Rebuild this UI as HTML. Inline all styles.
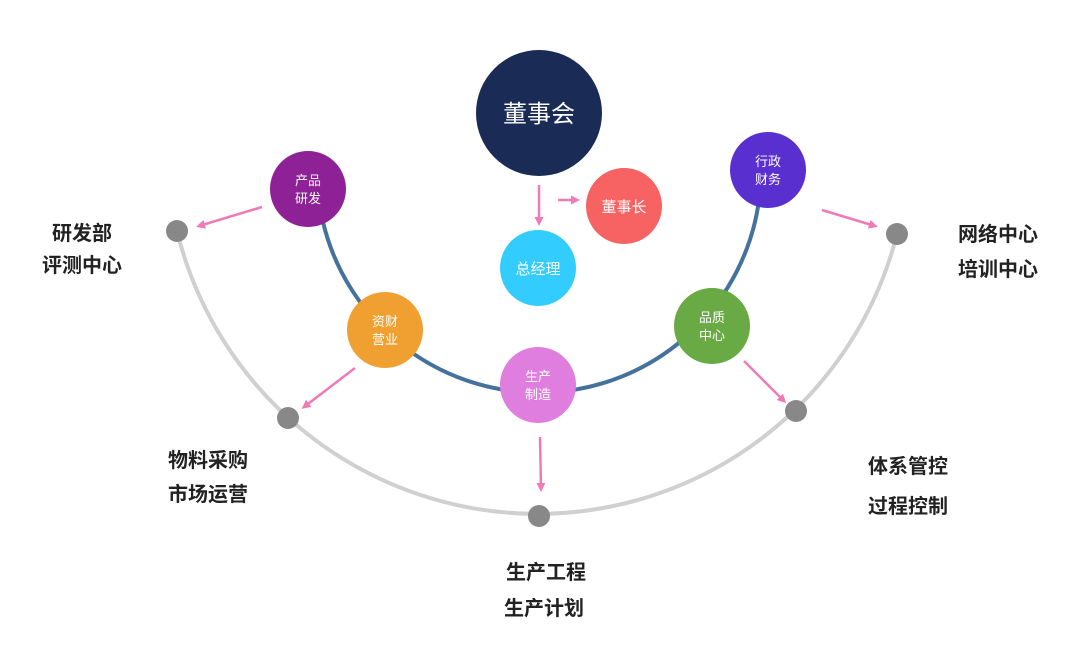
<!DOCTYPE html>
<html><head><meta charset="utf-8"><style>
html,body{margin:0;padding:0;background:#fff;}
svg{display:block;font-family:"Liberation Sans","Noto Sans CJK SC",sans-serif;}
.w{fill:#fff;font-size:13px;text-anchor:middle;}
.l{fill:#222;font-size:20px;font-weight:bold;text-anchor:middle;}
</style></head><body>
<svg width="1091" height="646" viewBox="0 0 1091 646">
<defs><marker id="a" markerWidth="9" markerHeight="9" refX="6" refY="4.5" orient="auto" markerUnits="userSpaceOnUse"><path d="M0,0 L9,4.5 L0,9 z" fill="#f07ab8"/></marker></defs>
<path d="M177,231 A371,371 0 0 0 897,234" fill="none" stroke="#d0d0d0" stroke-width="4"/>
<path d="M323,222 A222,222 0 0 0 759,200" fill="none" stroke="#45729c" stroke-width="4"/>
<g fill="#888"><circle cx="177" cy="231" r="11"/><circle cx="288" cy="418" r="11"/><circle cx="539" cy="516" r="11"/><circle cx="796" cy="411" r="11"/><circle cx="897" cy="234" r="11"/></g>
<g stroke="#f07ab8" stroke-width="2.5" marker-end="url(#a)">
<line x1="262" y1="207" x2="199" y2="226"/><line x1="355" y1="368" x2="304" y2="407"/><line x1="540" y1="437" x2="541" y2="489"/><line x1="744" y1="361" x2="784" y2="401"/><line x1="822" y1="210" x2="875" y2="226"/><line x1="539" y1="185" x2="539" y2="223"/><line x1="558" y1="200" x2="577" y2="200"/></g>
<circle cx="539" cy="113" r="63" fill="#1a2b55"/><text x="539" y="122" fill="#fff" font-size="24" text-anchor="middle">董事会</text>
<circle cx="624" cy="206" r="38" fill="#f76262"/><text x="624" y="212" class="w" style="font-size:15px">董事长</text>
<circle cx="538" cy="268" r="38" fill="#33ccff"/><text x="538" y="274" class="w" style="font-size:15px">总经理</text>
<circle cx="308" cy="189" r="38" fill="#8e2196"/><text x="308" y="185" class="w">产品</text><text x="308" y="203" class="w">研发</text>
<circle cx="768" cy="170" r="38" fill="#5a2fd0"/><text x="768" y="166" class="w">行政</text><text x="768" y="184" class="w">财务</text>
<circle cx="385" cy="330" r="38" fill="#f0a030"/><text x="385" y="326" class="w">资财</text><text x="385" y="344" class="w">营业</text>
<circle cx="538" cy="385" r="38" fill="#e07ee0"/><text x="538" y="381" class="w">生产</text><text x="538" y="399" class="w">制造</text>
<circle cx="712" cy="326" r="38" fill="#6aaa44"/><text x="712" y="322" class="w">品质</text><text x="712" y="340" class="w">中心</text>
<text x="82" y="240" class="l">研发部</text><text x="82" y="272" class="l">评测中心</text>
<text x="208" y="467" class="l">物料采购</text><text x="208" y="501" class="l">市场运营</text>
<text x="546" y="579" class="l">生产工程</text><text x="544" y="615" class="l">生产计划</text>
<text x="908" y="473" class="l">体系管控</text><text x="908" y="513" class="l">过程控制</text>
<text x="998" y="241" class="l">网络中心</text><text x="998" y="276" class="l">培训中心</text>
</svg>
</body></html>
